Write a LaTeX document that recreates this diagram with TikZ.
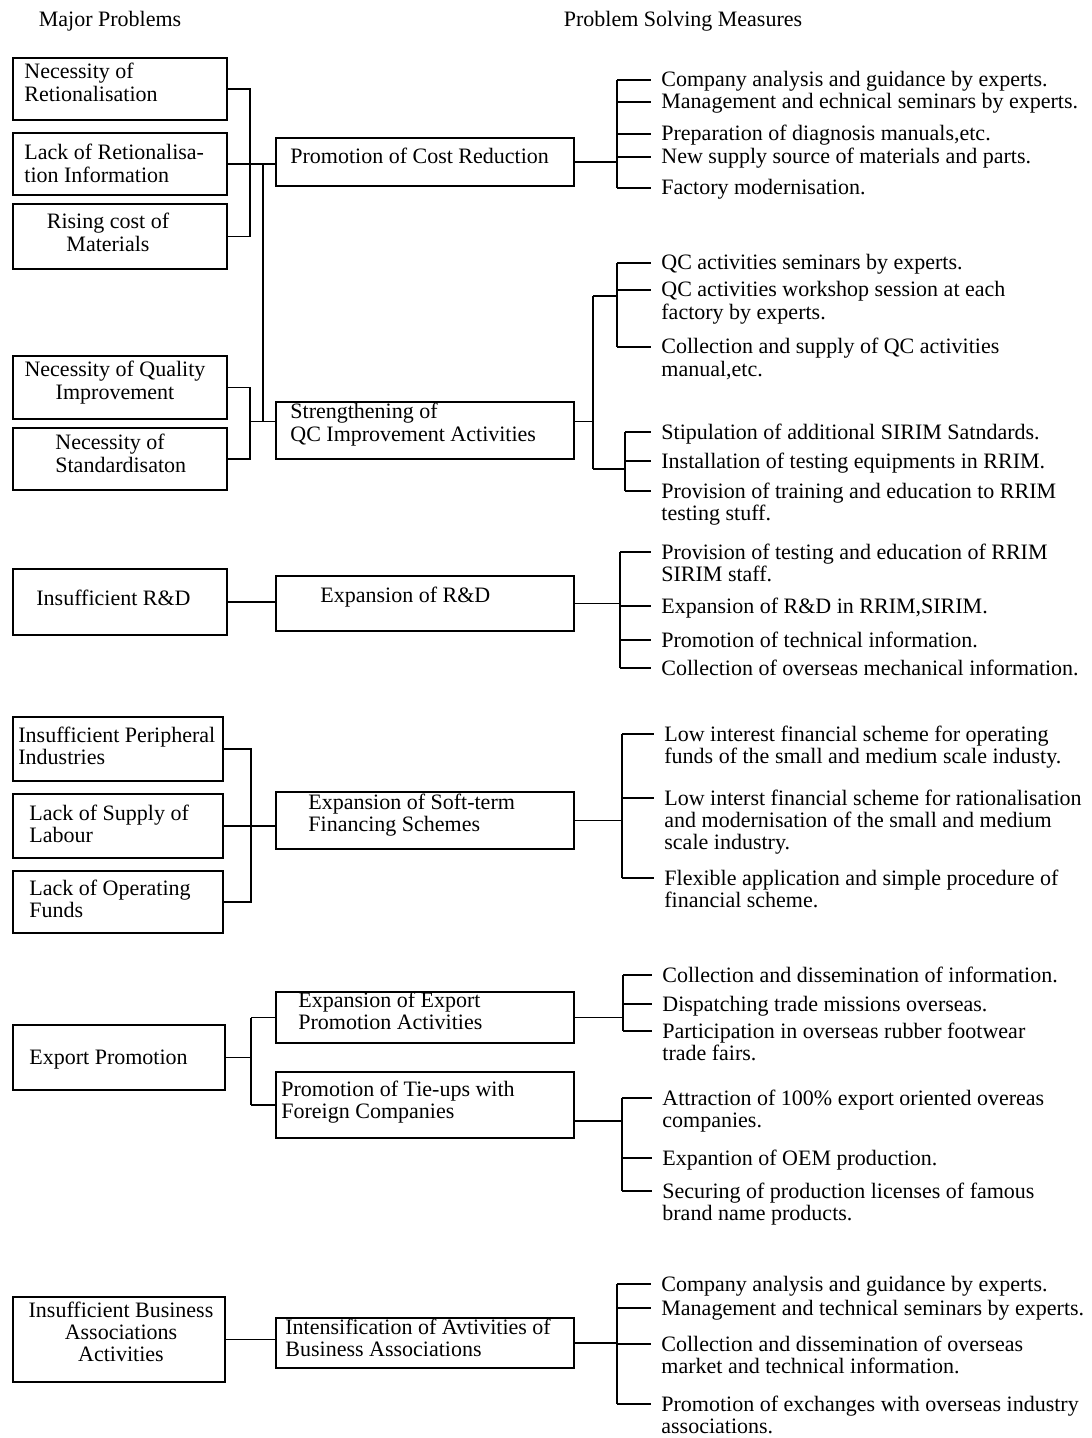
\documentclass[tikz,border=0pt]{standalone}
\usepackage{fontspec}
\setmainfont{Liberation Serif}
\newcommand\mytl[1]{\begin{tabular}[t]{@{}l@{}}#1\end{tabular}}
\newcommand\mytc[1]{\begin{tabular}[t]{@{}c@{}}#1\end{tabular}}
\newcommand\pbx[5]{\node[pbox, minimum width={(#4-#2)*0.5pt}, minimum height={(#5-#3)*0.5pt}] (#1) at (#2,#3) {};}
\newcommand\btx[4]{\node[txt] (#1) at (#2,{#3+7}) {\mytl{#4}};}
\newcommand\ctx[4]{\node[txt,anchor=base] (#1) at (#2,{#3+7}) {\mytc{#4}};}
\newcommand\itm[4]{\btx{#1}{#2}{#3}{#4}\coordinate (#1t) at ([shift={(-10,-7)}]#1.base west);}
\begin{document}
\begin{tikzpicture}[x=0.5pt,y=-0.5pt,
 pbox/.style={draw, line width=1pt, inner sep=0pt, anchor=north west},
 txt/.style={inner sep=0pt, anchor=base west, font=\fontsize{11}{11.2}\selectfont},
 wire/.style={line width=0.9pt}]
\path[use as bounding box, fill=white] (0,0) rectangle (1091,1438);

\ctx{hd1}{110}{20}{Major Problems}
\ctx{hd2}{683}{20}{Problem Solving Measures}

% ---------- group 1 : cost reduction / QC ----------
\pbx{l1}{12}{57}{226}{119}
\pbx{l2}{12}{132}{226}{194}
\pbx{l3}{12}{203}{226}{268}
\pbx{l4}{12}{355}{226}{418}
\pbx{l5}{12}{427}{226}{489}
\pbx{m1}{275}{137}{573}{185}
\pbx{m2}{275}{401}{573}{458}
\btx{tl1}{24}{72}{Necessity of\\Retionalisation}
\btx{tl2}{24}{153}{Lack of Retionalisa-\\tion Information}
\ctx{tl3}{108}{222}{Rising cost of\\Materials}
\ctx{tl4}{115}{370}{Necessity of Quality\\Improvement}
\btx{tl5}{55}{443}{Necessity of\\Standardisaton}
\btx{tm1}{290}{157}{Promotion of Cost Reduction}
\btx{tm2}{290}{412}{Strengthening of\\QC Improvement Activities}

\coordinate (g1) at (250,0);
\coordinate (g1b) at (263,0);
\coordinate (m2l) at ([shift={(0,-9)}]m2.west);
\coordinate (m2r) at ([shift={(0,-9)}]m2.east);
\draw[wire] (l1.east) -- (l1.east -| g1) -- (l3.east -| g1) -- (l3.east);
\draw[wire] (l2.east) -- (l2.east -| m1.west);
\draw[wire] (l2.east -| g1b) -- (g1b |- m2l);
\draw[wire] (l4.east) -- (l4.east -| g1) -- (l5.east -| g1) -- (l5.east);
\draw[wire] (g1 |- m2l) -- (m2l);

% cost reduction measures
\coordinate (b1) at (617,0);
\itm{c1}{661}{80}{Company analysis and guidance by experts.}
\itm{c2}{661}{102}{Management and echnical seminars by experts.}
\itm{c3}{661}{134}{Preparation of diagnosis manuals,etc.}
\itm{c4}{661}{157}{New supply source of materials and parts.}
\itm{c5}{661}{188}{Factory modernisation.}
\draw[wire] (m1.east) -- (m1.east -| b1);
\draw[wire] (b1 |- c1t) -- (b1 |- c5t);
\foreach \n in {c1,c2,c3,c4,c5} \draw[wire] (b1 |- \n t) -- (\n t);

% QC measures
\coordinate (b2) at (617,0);
\coordinate (b3) at (625,0);
\itm{q1}{661}{263}{QC activities seminars by experts.}
\itm{q2}{661}{290}{QC activities workshop session at each\\factory by experts.}
\itm{q3}{661}{347}{Collection and supply of QC activities\\manual,etc.}
\itm{q4}{661}{432}{Stipulation of additional SIRIM Satndards.}
\itm{q5}{661}{461}{Installation of testing equipments in RRIM.}
\itm{q6}{661}{491}{Provision of training and education to RRIM\\testing stuff.}
\coordinate (j1) at (593,296);
\coordinate (j2) at (593,469);
\draw[wire] (m2r) -- (m2r -| j1);
\draw[wire] (j1) -- (j2);
\draw[wire] (j1) -- (j1 -| b2);
\draw[wire] (j2) -- (j2 -| b3);
\draw[wire] (b2 |- q1t) -- (b2 |- q3t);
\draw[wire] (b3 |- q4t) -- (b3 |- q6t);
\foreach \n in {q1,q2,q3} \draw[wire] (b2 |- \n t) -- (\n t);
\foreach \n in {q4,q5,q6} \draw[wire] (b3 |- \n t) -- (\n t);

% ---------- R&D ----------
\pbx{l6}{12}{568}{226}{634}
\pbx{m3}{275}{575}{573}{630}
\btx{tl6}{36}{598}{Insufficient R\&D}
\btx{tm3}{320}{595}{Expansion of R\&D}
\draw[wire] (l6.east) -- (l6.east -| m3.west);
\coordinate (b4) at (620,0);
\itm{r1}{661}{552}{Provision of testing and education of RRIM\\SIRIM staff.}
\itm{r2}{661}{606}{Expansion of R\&D in RRIM,SIRIM.}
\itm{r3}{661}{640}{Promotion of technical information.}
\itm{r4}{661}{668}{Collection of overseas mechanical information.}
\draw[wire] (m3.east) -- (m3.east -| b4);
\draw[wire] (b4 |- r1t) -- (b4 |- r4t);
\foreach \n in {r1,r2,r3,r4} \draw[wire] (b4 |- \n t) -- (\n t);

% ---------- soft-term financing ----------
\pbx{l7}{12}{716}{222}{780}
\pbx{l8}{12}{793}{222}{857}
\pbx{l9}{12}{870}{222}{932}
\pbx{m4}{275}{791}{573}{848}
\btx{tl7}{18}{735}{Insufficient Peripheral\\Industries}
\btx{tl8}{29}{813}{Lack of Supply of\\Labour}
\btx{tl9}{29}{888}{Lack of Operating\\Funds}
\btx{tm4}{308}{802}{Expansion of Soft-term\\Financing Schemes}
\coordinate (g5) at (251,0);
\draw[wire] (l7.east) -- (l7.east -| g5) -- (l9.east -| g5) -- (l9.east);
\draw[wire] (l8.east) -- (l8.east -| m4.west);
\coordinate (b5) at (622,0);
\itm{s1}{664}{734}{Low interest financial scheme for operating\\funds of the small and medium scale industy.}
\itm{s2}{664}{798}{Low interst financial scheme for rationalisation\\and modernisation of the small and medium\\scale industry.}
\itm{s3}{664}{878}{Flexible application and simple procedure of\\financial scheme.}
\draw[wire] (m4.east) -- (m4.east -| b5);
\draw[wire] (b5 |- s1t) -- (b5 |- s3t);
\foreach \n in {s1,s2,s3} \draw[wire] (b5 |- \n t) -- (\n t);

% ---------- export ----------
\pbx{l10}{12}{1024}{224}{1089}
\pbx{m5}{275}{991}{573}{1042}
\pbx{m6}{275}{1071}{573}{1137}
\btx{tl10}{29}{1057}{Export Promotion}
\btx{tm5}{298}{1000}{Expansion of Export\\Promotion Activities}
\btx{tm6}{281}{1089}{Promotion of Tie-ups with\\Foreign Companies}
\coordinate (g6) at (251,0);
\draw[wire] (l10.east) -- (l10.east -| g6);
\draw[wire] (m5.west -| g6) -- (m6.west -| g6);
\draw[wire] (m5.west -| g6) -- (m5.west);
\draw[wire] (m6.west -| g6) -- (m6.west);
\coordinate (b6) at (623,0);
\coordinate (b7) at (622,0);
\itm{e1}{662}{975}{Collection and dissemination of information.}
\itm{e2}{662}{1004}{Dispatching trade missions overseas.}
\itm{e3}{662}{1031}{Participation in overseas rubber footwear\\trade fairs.}
\itm{e4}{662}{1098}{Attraction of 100\% export oriented overeas\\companies.}
\itm{e5}{662}{1158}{Expantion of OEM production.}
\itm{e6}{662}{1191}{Securing of production licenses of famous\\brand name products.}
\coordinate (m6r) at ([shift={(0,16)}]m6.east);
\draw[wire] (m5.east) -- (m5.east -| b6);
\draw[wire] (m6r) -- (m6r -| b7);
\draw[wire] (b6 |- e1t) -- (b6 |- e3t);
\draw[wire] (b7 |- e4t) -- (b7 |- e6t);
\foreach \n in {e1,e2,e3} \draw[wire] (b6 |- \n t) -- (\n t);
\foreach \n in {e4,e5,e6} \draw[wire] (b7 |- \n t) -- (\n t);

% ---------- business associations ----------
\pbx{l11}{12}{1296}{224}{1381}
\pbx{m7}{275}{1317}{573}{1367}
\ctx{tl11}{121}{1310}{Insufficient Business\\Associations\\Activities}
\btx{tm7}{285}{1327}{Intensification of Avtivities of\\Business Associations}
\draw[wire] (l11.east) -- (l11.east -| m7.west);
\coordinate (b8) at (617,0);
\itm{z1}{661}{1284}{Company analysis and guidance by experts.}
\itm{z2}{661}{1308}{Management and technical seminars by experts.}
\itm{z3}{661}{1344}{Collection and dissemination of overseas\\market and technical information.}
\itm{z4}{661}{1404}{Promotion of exchanges with overseas industry\\associations.}
\draw[wire] (m7.east) -- (m7.east -| b8);
\draw[wire] (b8 |- z1t) -- (b8 |- z4t);
\foreach \n in {z1,z2,z3,z4} \draw[wire] (b8 |- \n t) -- (\n t);
\end{tikzpicture}
\end{document}
